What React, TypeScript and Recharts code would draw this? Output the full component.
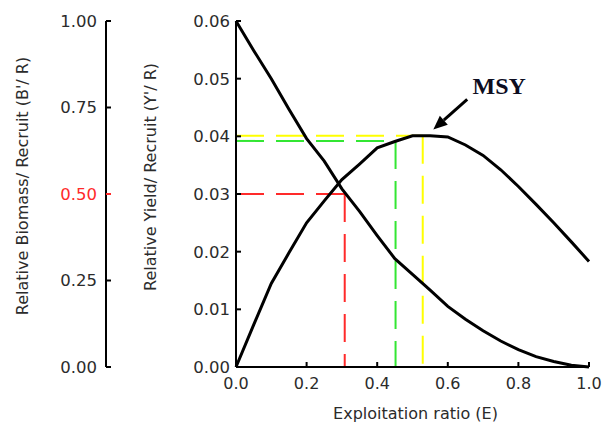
import { ComposedChart, Line, XAxis, YAxis, ReferenceLine } from "recharts";

// exploitation ratio E and the two per-recruit curves
const exploitation = [
  0, 0.05, 0.1, 0.15, 0.2, 0.25, 0.3, 0.35, 0.4, 0.45, 0.5, 0.55, 0.6, 0.65,
  0.7, 0.75, 0.8, 0.85, 0.9, 0.95, 1.0,
];
const biomassPerRecruit = [
  1.0, 0.915, 0.833, 0.745, 0.66, 0.595, 0.515, 0.45, 0.38, 0.313, 0.268,
  0.222, 0.175, 0.138, 0.105, 0.075, 0.05, 0.03, 0.016, 0.005, 0.0,
];
const yieldPerRecruit = [
  0, 0.0073, 0.0145, 0.0198, 0.025, 0.0288, 0.0325, 0.0352, 0.038, 0.0391,
  0.0401, 0.0401, 0.0399, 0.0385, 0.0367, 0.0342, 0.0313, 0.0282, 0.025,
  0.0217, 0.0183,
];

const xTicks = [0, 0.2, 0.4, 0.6, 0.8, 1.0];
const yieldTicks = [0, 0.01, 0.02, 0.03, 0.04, 0.05, 0.06];
const biomassTicks = [0, 0.25, 0.5, 0.75, 1.0];

// dashed guides: E at 50% biomass, E0.1, Emax
const refE = [0.308, 0.452, 0.529];
const refYield = [0.03, 0.0392, 0.0401];
const refColors = ["#ff2a2a", "#33e633", "#ffff00"];

// MSY arrow (tail, tip)
const msyE = [0.655, 0.559];
const msyY = [0.0464, 0.0412];

const data = exploitation.map((e, i) => ({
  e,
  biomass: biomassPerRecruit[i],
  yld: yieldPerRecruit[i],
}));

const FONT = "'DejaVu Sans', sans-serif";
const TXT = "#2b2b2b";
// recharts stacks left axes by id, so yield ("a") sits next to the plot
const Y_ID = "a";
const B_ID = "z";

function YieldTick(props: any) {
  const { x, y, payload } = props;
  const ax = x + 6;
  return (
    <g>
      <line x1={ax} x2={ax + 5} y1={y} y2={y} stroke="#000" strokeWidth={2} />
      <text x={x} y={y} dy="0.36em" textAnchor="end" fontSize={16.5} fill={TXT} fontFamily={FONT}>
        {payload.value.toFixed(2)}
      </text>
    </g>
  );
}

function BiomassTick(props: any) {
  const { x, y, payload } = props;
  const ax = x + 9;
  const red = payload.value === 0.5;
  return (
    <g>
      <line x1={ax} x2={ax + 5} y1={y} y2={y} stroke={red ? "#ff2a2a" : "#000"} strokeWidth={2} />
      <text x={x} y={y} dy="0.36em" textAnchor="end" fontSize={16.5} fill={red ? "#ff2a2a" : TXT} fontFamily={FONT}>
        {payload.value.toFixed(2)}
      </text>
    </g>
  );
}

function ETick(props: any) {
  const { x, y, payload } = props;
  const ay = y - 10;
  return (
    <g>
      <line x1={x} x2={x} y1={ay} y2={ay - 5} stroke="#000" strokeWidth={2} />
      <text x={x} y={ay + 22} textAnchor="middle" fontSize={16} fill={TXT} fontFamily={FONT}>
        {payload.value.toFixed(1)}
      </text>
    </g>
  );
}

function sideLabel(text: string, dx: number, dy: number) {
  return (props: any) => {
    const vb = props.viewBox;
    const cx = vb.x + dx;
    const cy = vb.y + vb.height / 2 + dy;
    return (
      <text x={cx} y={cy} dy="0.36em" textAnchor="middle" transform={`rotate(-90, ${cx}, ${cy})`}
        fontSize={16} fill={TXT} fontFamily={FONT}>
        {text}
      </text>
    );
  };
}

function xLabel(props: any) {
  const vb = props.viewBox;
  return (
    <text x={vb.x + vb.width / 2 + 3} y={vb.y + 52} textAnchor="middle" fontSize={16} fill={TXT} fontFamily={FONT}>
      Exploitation ratio (E)
    </text>
  );
}

function MsyArrow(props: any) {
  const { x1, y1, x2, y2 } = props;
  const ang = Math.atan2(y2 - y1, x2 - x1);
  const hl = 14;
  const hw = 6;
  const bx = x2 - hl * Math.cos(ang);
  const by = y2 - hl * Math.sin(ang);
  const px = -Math.sin(ang) * hw;
  const py = Math.cos(ang) * hw;
  return (
    <g>
      <line x1={x1} y1={y1} x2={bx} y2={by} stroke="#000" strokeWidth={3} />
      <polygon points={`${x2},${y2} ${bx + px},${by + py} ${bx - px},${by - py}`} fill="#000" />
      <text x={x1 + 32} y={y1 - 5} textAnchor="middle" fontFamily="'Liberation Serif', serif"
        fontWeight="bold" fontSize={24} fill="#0d0d1f">
        MSY
      </text>
    </g>
  );
}

export default function App() {
  return (
    <div style={{ position: "absolute", left: 0, top: 0, width: 604, height: 423, background: "#fff" }}>
      <ComposedChart width={604} height={423} data={data} margin={{ top: 21, right: 15, bottom: 0, left: 0 }}>
        <XAxis dataKey="e" type="number" domain={[0, 1]} ticks={xTicks} interval={0} height={56}
          tickSize={0} tickMargin={10} tickLine={false} tick={ETick}
          axisLine={{ stroke: "#000", strokeWidth: 2 }} label={xLabel} />
        <YAxis yAxisId={Y_ID} orientation="left" domain={[0, 0.06]} ticks={yieldTicks} interval={0} width={130}
          tickSize={0} tickMargin={6} tickLine={false} tick={YieldTick}
          axisLine={{ stroke: "#000", strokeWidth: 2 }} label={sideLabel("Relative Yield/ Recruit (Y'/ R)", 44, -17)} />
        <YAxis yAxisId={B_ID} orientation="left" domain={[0, 1]} ticks={biomassTicks} interval={0} width={106}
          tickSize={0} tickMargin={9} tickLine={false} tick={BiomassTick}
          axisLine={{ stroke: "#000", strokeWidth: 2 }} label={sideLabel("Relative Biomass/ Recruit (B'/ R)", 22, -8)} />

        {refE.map((e, i) => (
          <ReferenceLine key={`h${i}`} yAxisId={Y_ID} stroke={refColors[i]} strokeWidth={2} strokeDasharray="28 12"
            segment={[{ x: 0, y: refYield[i] }, { x: e, y: refYield[i] }]} />
        ))}
        {refE.map((e, i) => (
          <ReferenceLine key={`v${i}`} yAxisId={Y_ID} stroke={refColors[i]} strokeWidth={2} strokeDasharray="28 12"
            segment={[{ x: e, y: refYield[i] }, { x: e, y: 0 }]} />
        ))}

        <Line yAxisId={B_ID} dataKey="biomass" type="linear" stroke="#000" strokeWidth={3} dot={false}
          isAnimationActive={false} />
        <Line yAxisId={Y_ID} dataKey="yld" type="linear" stroke="#000" strokeWidth={3} dot={false}
          isAnimationActive={false} />

        <ReferenceLine yAxisId={Y_ID} segment={[{ x: msyE[0], y: msyY[0] }, { x: msyE[1], y: msyY[1] }]}
          shape={MsyArrow} />
      </ComposedChart>
    </div>
  );
}
